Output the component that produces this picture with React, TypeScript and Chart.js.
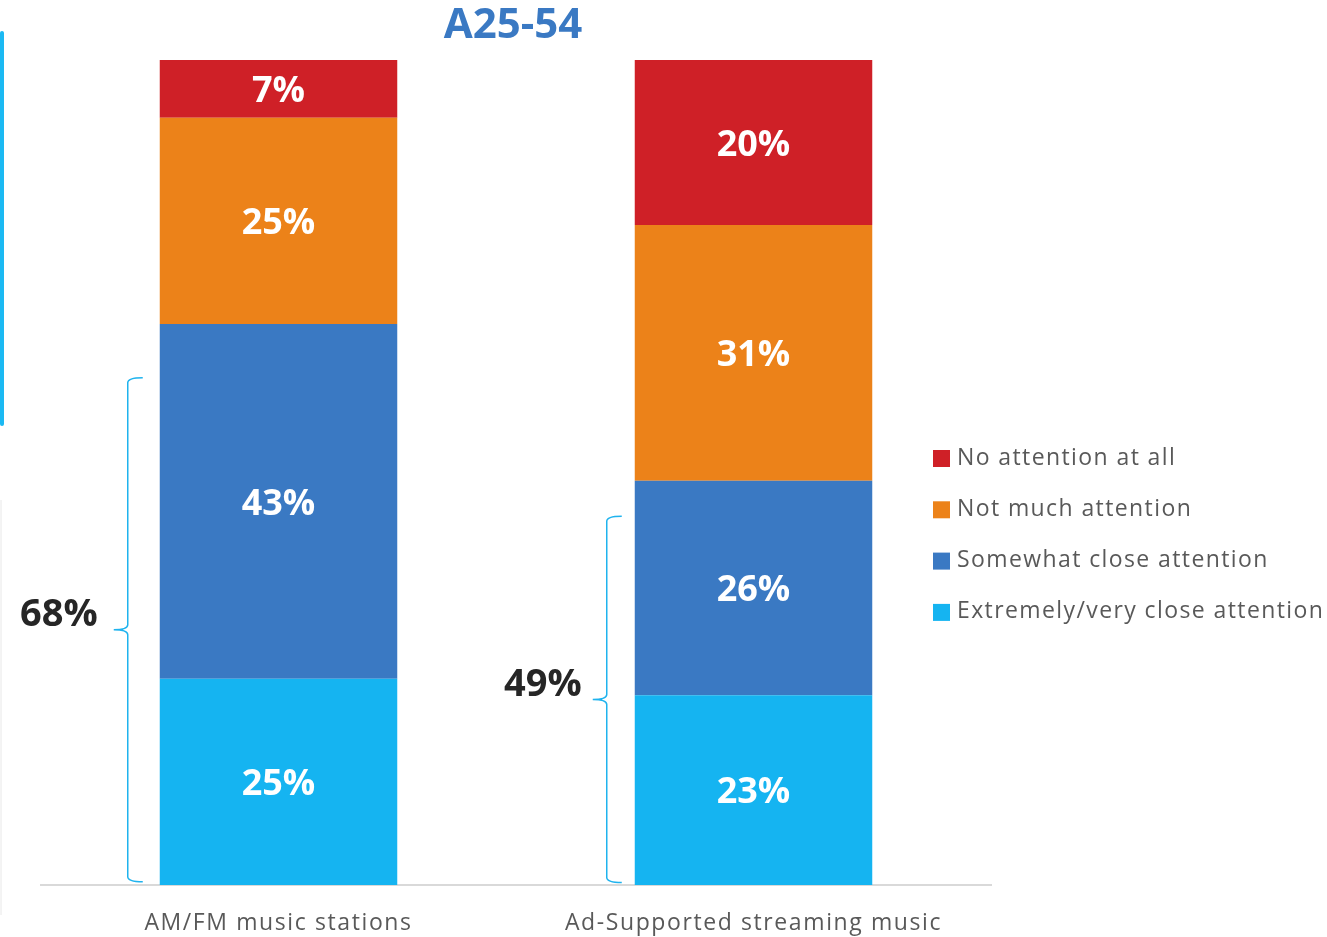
import React, { useEffect, useRef } from "react";
import { Chart, registerables } from "chart.js";

Chart.register(...registerables);

const categories = ["AM/FM music stations", "Ad-Supported streaming music"];
const seriesNames = [
  "Extremely/very close attention",
  "Somewhat close attention",
  "Not much attention",
  "No attention at all",
];
const seriesColors = ["#15b4f1", "#3a79c3", "#ec8219", "#cf2027"];
const extremelyClose = [25, 23];
const somewhatClose = [43, 26];
const notMuch = [25, 31];
const noAttention = [7, 20];
const braceTop = [61.5, 44.7];
const braceBottom = [0.4, 0.3];
const titleText = "A25-54";

const FONT = "'Open Sans', 'DejaVu Sans', sans-serif";
const braceGap = [32, 28];
const totalGap = [30, 25];

const spacingPlugin = {
  id: "spacing",
  beforeDraw(chart: any) {
    chart.ctx.letterSpacing = "1.6px";
  },
};

const overlayPlugin = {
  id: "overlay",
  afterDatasetsDraw(chart: any) {
    const ctx = chart.ctx;
    const area = chart.chartArea;
    const yScale = chart.scales.y;
    ctx.save();
    ctx.letterSpacing = "0px";
    // data labels
    ctx.fillStyle = "#ffffff";
    ctx.font = `bold 36px ${FONT}`;
    ctx.textAlign = "center";
    ctx.textBaseline = "middle";
    chart.data.datasets.forEach((ds: any, di: number) => {
      const meta = chart.getDatasetMeta(di);
      meta.data.forEach((el: any, i: number) => {
        const v = ds.data[i];
        ctx.fillText(`${v}%`, el.x, (el.y + el.base) / 2 + 3);
      });
    });
    // braces
    const meta0 = chart.getDatasetMeta(0);
    meta0.data.forEach((el: any, i: number) => {
      const barLeft = el.x - el.width / 2;
      const bx = barLeft - braceGap[i];
      const top = yScale.getPixelForValue(braceTop[i]);
      const bottom = yScale.getPixelForValue(braceBottom[i]);
      const tip = (top + bottom) / 2;
      ctx.strokeStyle = "#1fb3ee";
      ctx.lineWidth = 1.5;
      ctx.beginPath();
      ctx.moveTo(bx + 15, top);
      ctx.quadraticCurveTo(bx, top, bx, top + 5);
      ctx.lineTo(bx, tip - 5);
      ctx.quadraticCurveTo(bx, tip, bx - 14, tip);
      ctx.quadraticCurveTo(bx, tip, bx, tip + 5);
      ctx.lineTo(bx, bottom - 5);
      ctx.quadraticCurveTo(bx, bottom, bx + 15, bottom);
      ctx.stroke();
      const total = extremelyClose[i] + somewhatClose[i];
      ctx.fillStyle = "#262626";
      ctx.font = `bold 38px ${FONT}`;
      ctx.textAlign = "right";
      ctx.textBaseline = "middle";
      ctx.fillText(`${total}%`, bx - totalGap[i], tip - 14);
    });
    // title
    ctx.fillStyle = "#3a79c3";
    ctx.font = `bold 42px ${FONT}`;
    ctx.textAlign = "center";
    ctx.textBaseline = "middle";
    ctx.fillText(titleText, (area.left + area.right) / 2 - 3, 26);
    // legend
    ctx.font = `23px ${FONT}`;
    ctx.letterSpacing = "1.4px";
    ctx.textAlign = "left";
    ctx.textBaseline = "middle";
    const order = [3, 2, 1, 0];
    order.forEach((di, k) => {
      const y = 458 + k * 51.3;
      ctx.fillStyle = seriesColors[di];
      ctx.fillRect(area.right - 58, y - 8, 17, 17);
      ctx.fillStyle = "#595959";
      ctx.fillText(seriesNames[di], area.right - 34, y);
    });
    ctx.letterSpacing = "0px";
    // decorative left lines
    ctx.strokeStyle = "#1bb9f3";
    ctx.lineWidth = 4;
    ctx.lineCap = "round";
    ctx.beginPath();
    ctx.moveTo(2, 33);
    ctx.lineTo(2, 424);
    ctx.stroke();
    ctx.strokeStyle = "#e8e8e8";
    ctx.lineWidth = 1;
    ctx.lineCap = "butt";
    ctx.beginPath();
    ctx.moveTo(1, 500);
    ctx.lineTo(1, 915);
    ctx.stroke();
    ctx.restore();
  },
};

export default function App() {
  const ref = useRef<HTMLCanvasElement>(null);
  useEffect(() => {
    if (!ref.current) return;
    const values = [extremelyClose, somewhatClose, notMuch, noAttention];
    const chart = new Chart(ref.current, {
      type: "bar",
      data: {
        labels: categories,
        datasets: values.map((d, i) => ({
          label: seriesNames[i],
          data: d,
          backgroundColor: seriesColors[i],
          borderWidth: 0,
          barPercentage: 0.5,
          categoryPercentage: 1,
        })),
      },
      options: {
        responsive: false,
        animation: false,
        layout: { padding: { left: 41, right: 336, top: 60, bottom: 0 } },
        plugins: {
          legend: { display: false },
          tooltip: { enabled: false },
          title: { display: false },
        },
        scales: {
          x: {
            stacked: true,
            grid: { display: false, drawTicks: false },
            border: { display: true, color: "#d9d9d9", width: 2 },
            ticks: {
              color: "#595959",
              font: { family: FONT, size: 23 },
              padding: 25,
              maxRotation: 0,
            },
            afterFit(scale: any) {
              scale.height = 52;
            },
          },
          y: {
            stacked: true,
            display: false,
            min: 0,
            max: 100,
          },
        },
      },
      plugins: [spacingPlugin, overlayPlugin],
    });
    return () => chart.destroy();
  }, []);
  return (
    <div style={{ position: "fixed", left: 0, top: 0, width: 1327, height: 937, background: "#fff" }}>
      <canvas ref={ref} width={1327} height={937} />
    </div>
  );
}
